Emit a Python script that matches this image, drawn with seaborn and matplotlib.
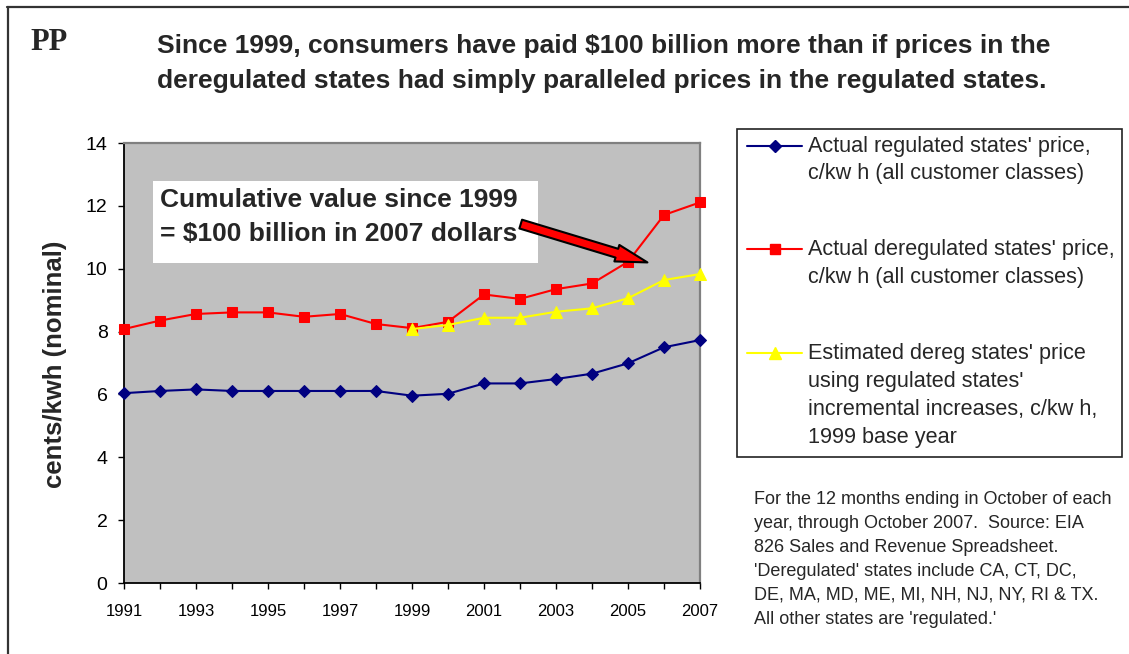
import matplotlib
matplotlib.use("Agg")
import matplotlib.pyplot as plt
from matplotlib.lines import Line2D
from matplotlib.patches import Rectangle
import numpy as np
import pandas as pd
import seaborn as sns

# ---- data (cents per kWh, nominal) ----
years = list(range(1991, 2008))
regulated_price = [6.04, 6.11, 6.16, 6.11, 6.11, 6.11, 6.11, 6.11, 5.96,
                   6.02, 6.35, 6.35, 6.49, 6.66, 6.99, 7.50, 7.73]
deregulated_price = [8.08, 8.35, 8.56, 8.61, 8.61, 8.47, 8.56, 8.24, 8.11,
                     8.31, 9.18, 9.04, 9.35, 9.53, 10.22, 11.71, 12.11]
estimated_years = list(range(1999, 2008))
estimated_price = [8.08, 8.21, 8.44, 8.44, 8.63, 8.74, 9.06, 9.64, 9.83]

series_labels = [
    ["Actual regulated states' price,", "c/kw h (all customer classes)"],
    ["Actual deregulated states' price,", "c/kw h (all customer classes)"],
    ["Estimated dereg states' price", "using regulated states'",
     "incremental increases, c/kw h,", "1999 base year"],
]
title_lines = [
    "Since 1999, consumers have paid $100 billion more than if prices in the",
    "deregulated states had simply paralleled prices in the regulated states.",
]
callout_lines = ["Cumulative value since 1999", "= $100 billion in 2007 dollars"]
footnote_lines = [
    "For the 12 months ending in October of each",
    "year, through October 2007.  Source: EIA",
    "826 Sales and Revenue Spreadsheet.",
    "'Deregulated' states include CA, CT, DC,",
    "DE, MA, MD, ME, MI, NH, NJ, NY, RI & TX.",
    "All other states are 'regulated.'",
]
y_ticks = [0, 2, 4, 6, 8, 10, 12, 14]

# ---- style ----
sns.set_style("white")
plt.rcParams["font.family"] = ["Liberation Sans", "DejaVu Sans"]

W, H = 1129, 654
fig = plt.figure(figsize=(W / 100, H / 100), dpi=100)


def fx(x):
    return x / W


def fy(y):
    return 1 - y / H


ax_l, ax_r, ax_t, ax_b = 124, 700, 143, 583
ax = fig.add_axes([fx(ax_l), fy(ax_b), (ax_r - ax_l) / W, (ax_b - ax_t) / H])
ax.set_facecolor("#C0C0C0")

NAVY, RED, YELLOW = "#000080", "#FF0000", "#FFFF00"
styles = [
    dict(color=NAVY, marker="D", markersize=5.8),
    dict(color=RED, marker="s", markersize=7.4),
    dict(color=YELLOW, marker="^", markersize=8.5),
]

frames = [
    pd.DataFrame({"year": years, "price": regulated_price}),
    pd.DataFrame({"year": years, "price": deregulated_price}),
    pd.DataFrame({"year": estimated_years, "price": estimated_price}),
]
for frame, st in zip(frames, styles):
    sns.lineplot(data=frame, x="year", y="price", ax=ax, linewidth=1.5,
                 markeredgecolor=st["color"], clip_on=False, zorder=3,
                 legend=False, **st)

ax.set_xlim(1991, 2007)
ax.set_ylim(0, 14)
ax.set_xticks(years)
ax.set_xticklabels([str(y) if y % 2 == 1 else "" for y in years])
ax.set_yticks(y_ticks)
ax.set_yticklabels([str(v) for v in y_ticks])
ax.tick_params(axis="x", direction="out", length=4.3, width=1, pad=10.5,
               labelsize=12, colors="black", bottom=True)
ax.tick_params(axis="y", direction="out", length=4.3, width=1, pad=7.5,
               labelsize=14, colors="black", left=True)
ax.set_xlabel("")
ax.set_ylabel("cents/kwh (nominal)", fontsize=18.5, fontweight="bold")
ax.yaxis.label.set_va("center")
ax.yaxis.set_label_coords((55 - ax_l) / (ax_r - ax_l), (ax_b - 364) / (ax_b - ax_t))

for side in ["left", "bottom"]:
    ax.spines[side].set_color("black")
    ax.spines[side].set_linewidth(1.3)
for side in ["top", "right"]:
    ax.spines[side].set_color("#808080")
    ax.spines[side].set_linewidth(1.6)
    ax.spines[side].set_visible(True)

# ---- callout box and arrow ----
ax.add_patch(Rectangle((fx(153), fy(263)), (538 - 153) / W, (263 - 181) / H,
                       transform=fig.transFigure, facecolor="white",
                       edgecolor="none", zorder=4, clip_on=False))
for line, base in zip(callout_lines, [207, 241]):
    ax.text(fx(160), fy(base), line, transform=fig.transFigure, fontsize=19,
            fontweight="bold", va="baseline", ha="left", zorder=5)

ax.annotate("", xy=(2005.54, 10.20), xytext=(2002.02, 11.42),
            xycoords="data", textcoords="data", zorder=6,
            arrowprops=dict(arrowstyle="simple,head_length=1.15,head_width=0.62,tail_width=0.33",
                            mutation_scale=20, facecolor=RED, edgecolor="black",
                            linewidth=1.5, shrinkA=0, shrinkB=0))

# ---- title ----
fig.text(fx(30), fy(50), "PP", fontsize=22, fontweight="bold",
         family=["Liberation Serif", "DejaVu Serif"], va="baseline", ha="left")
for line, base in zip(title_lines, [53, 88]):
    fig.text(fx(157), fy(base), line, fontsize=19, fontweight="bold",
             va="baseline", ha="left")

# ---- legend ----
fig.patches.append(Rectangle((fx(737), fy(457)), (1122 - 737) / W, (457 - 129) / H,
                             transform=fig.transFigure, facecolor="white",
                             edgecolor="#222222", linewidth=1.2))
handle_y = [146, 249, 353]
text_bases = [[152, 179], [255, 283], [359, 387, 415, 443]]
for st, hy, lines, bases in zip(styles, handle_y, series_labels, text_bases):
    fig.add_artist(Line2D([fx(747), fx(774.5), fx(802)], [fy(hy)] * 3,
                          transform=fig.transFigure, color=st["color"],
                          marker=st["marker"], markersize=st["markersize"],
                          markeredgecolor=st["color"], markevery=[1],
                          linewidth=1.5))
    for line, base in zip(lines, bases):
        fig.text(fx(808), fy(base), line, fontsize=15.6, va="baseline", ha="left")

# ---- footnote ----
for i, line in enumerate(footnote_lines):
    fig.text(fx(754), fy(504 + 24 * i), line, fontsize=13, va="baseline", ha="left")

# ---- page frame ----
fig.add_artist(Line2D([fx(7), fx(W)], [fy(7), fy(7)], transform=fig.transFigure,
                      color="#333333", linewidth=1.6))
fig.add_artist(Line2D([fx(8), fx(8)], [fy(7), fy(H)], transform=fig.transFigure,
                      color="#333333", linewidth=1.6))

fig.savefig("out.png", dpi=100)
